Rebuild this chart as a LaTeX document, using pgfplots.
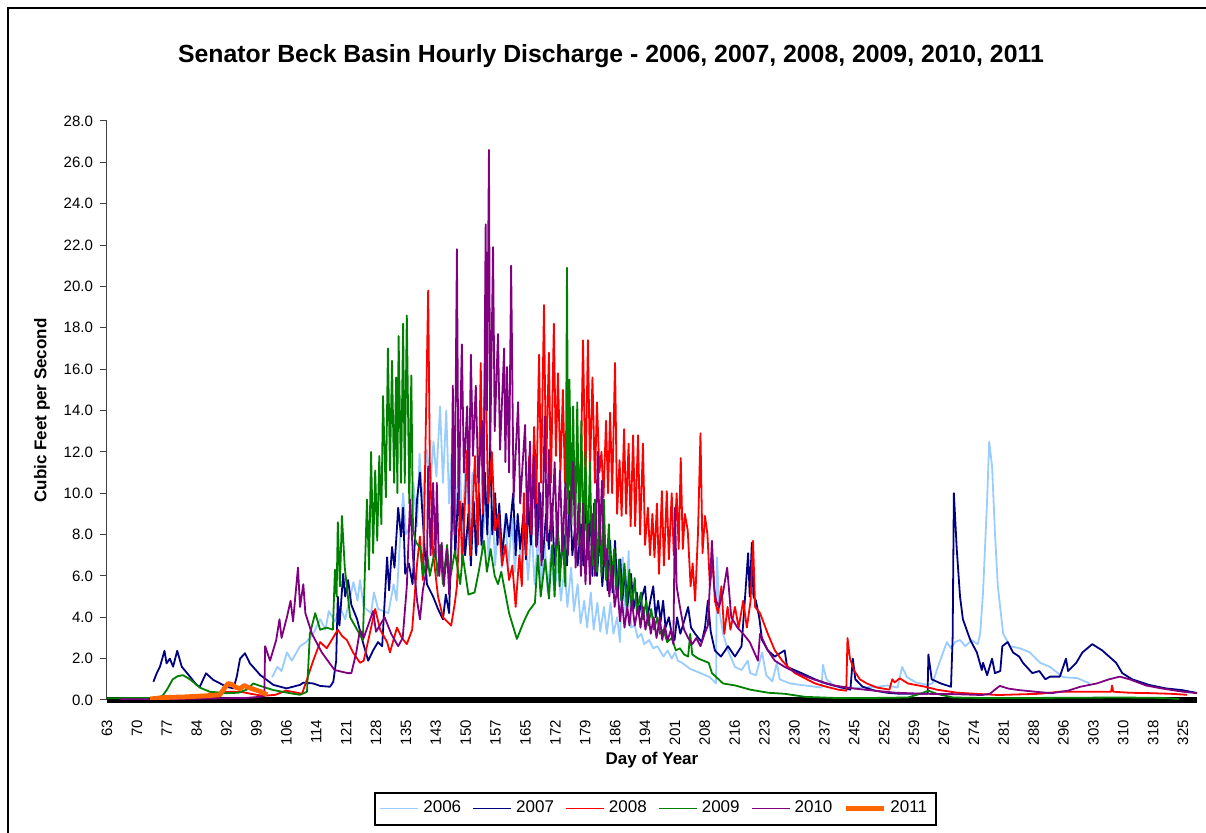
\documentclass[border=0pt]{standalone}
\usepackage{fontspec}
\setmainfont{Liberation Sans}
\usepackage{pgfplots}
\pgfplotsset{compat=1.18}
\definecolor{c2006}{RGB}{153,204,255}
\definecolor{c2007}{RGB}{0,0,128}
\definecolor{c2008}{RGB}{255,0,0}
\definecolor{c2009}{RGB}{0,128,0}
\definecolor{c2010}{RGB}{128,0,128}
\definecolor{c2011}{RGB}{255,102,0}
\begin{document}
\begin{tikzpicture}
\useasboundingbox (0pt,0pt) rectangle (603pt,416.5pt);
\draw[line width=1pt] (4pt,-20pt) rectangle (640pt,412.5pt);
\node[font=\bfseries\fontsize{12.4}{14}\selectfont] at (305.5pt,388.5pt) {Senator Beck Basin Hourly Discharge - 2006, 2007, 2008, 2009, 2010, 2011};
\begin{axis}[
  at={(53.5pt,66.5pt)}, anchor=south west,
  scale only axis, width=545pt, height=289.5pt,
  xmin=63, xmax=328.4, ymin=0, ymax=28,
  axis lines=left,
  axis line style={-, draw=black!75, line width=0.5pt},
  x axis line style={-, draw=black, line width=3.4pt},
  ytick={0,2,...,28},
  yticklabel={\pgfmathprintnumber[fixed,fixed zerofill,precision=1,assume math mode=true]{\tick}},
  yticklabel style={font=\fontsize{7.5}{9}\selectfont},
  ytick style={draw=black!75, line width=0.5pt},
  tick align=outside, major tick length=3.5pt,
  xtick={63,70.28,77.56,84.83,92.11,99.39,106.67,113.94,121.22,128.50,135.78,143.06,150.33,157.61,164.89,172.17,179.44,186.72,194.00,201.28,208.56,215.83,223.11,230.39,237.67,244.94,252.22,259.50,266.78,274.06,281.33,288.61,295.89,303.17,310.44,317.72,325.00},
  xticklabels={63,70,77,84,92,99,106,114,121,128,135,143,150,157,165,172,179,186,194,201,208,216,223,230,237,245,252,259,267,274,281,288,296,303,310,318,325},
  xtick style={draw=none},
  xticklabel style={rotate=90, anchor=east, font=\fontsize{7.5}{9}\selectfont, xshift=-3pt},
  xlabel={Day of Year}, ylabel={Cubic Feet per Second},
  xlabel style={at={(axis description cs:0.5,-0.104)}, anchor=center, font=\bfseries\fontsize{8.5}{10}\selectfont},
  ylabel style={at={(axis description cs:-0.0596,0.5)}, anchor=center, font=\bfseries\fontsize{8.5}{10}\selectfont},
  legend columns=6,
  legend style={at={(axis description cs:0.503,-0.1875)}, anchor=center, draw=black, line width=1pt, font=\fontsize{8.5}{10}\selectfont, inner sep=2.3pt, /tikz/every even column/.append style={column sep=3.6pt}},
  legend image code/.code={\draw[#1] (0pt,0pt) -- (19pt,0pt);},
  clip=true,
  every axis plot/.append style={line join=round},
]
\addplot[draw=c2006, line width=0.9pt] coordinates {(103.2,1.1)(104.5,1.6)(105.5,1.4)(106.8,2.3)(108,1.9)(110,2.6)(111.5,2.8)(113.2,3.2)(114.9,3.9)(116.2,3.4)(117,4.3)(118.5,3.8)(119.7,4.5)(121,3.9)(123,5.7)(124,4.8)(124.6,5.8)(125.5,4.5)(127.3,4.2)(128,5.2)(129,4.4)(131.5,4.2)(132.8,5.6)(133.5,4.8)(134.3,7.6)(135.1,10.0)(135.8,8.0)(136.7,8.4)(137.6,10.5)(138.5,8.4)(139.1,11.9)(139.8,9.5)(140.9,12.1)(141.7,10.3)(142.5,12.5)(143.2,10.8)(144.1,14.2)(144.8,10.5)(145.6,14.0)(146.3,9.5)(147.2,13.0)(147.9,8.5)(148.8,12.4)(149.5,8.0)(150.4,11.8)(151.1,7.5)(152,11.0)(152.7,7.2)(153.6,10.5)(154.3,7.0)(155.2,10.0)(155.9,6.8)(156.8,9.6)(157.5,6.5)(158.4,9.2)(159.1,6.4)(160,9.0)(160.7,6.3)(161.6,8.8)(162.3,6.2)(163.2,8.6)(163.9,6.0)(164.8,8.4)(165.5,5.8)(166.4,8.3)(167.1,5.6)(168,8.0)(168.7,5.5)(169.6,7.6)(170.3,5.2)(171.2,7.4)(171.9,5.0)(172.8,6.8)(173.5,4.8)(174.4,6.4)(175.1,4.5)(176,6.4)(176.7,4.3)(177.6,5.6)(178.3,3.7)(179.2,4.8)(179.9,3.5)(180.8,5.2)(181.5,3.4)(182.4,4.7)(183.1,3.3)(184,4.5)(184.7,3.2)(185.6,4.7)(186.3,3.2)(187.2,4.0)(187.9,2.8)(188.6,6.9)(189.3,4.0)(190,7.2)(190.6,3.5)(191.5,3.6)(192.2,3.0)(193.1,3.2)(193.8,2.7)(195,2.9)(196,2.5)(197,2.6)(198.5,2.1)(199.5,2.4)(200.5,2.0)(201.3,2.3)(202,1.9)(203,1.8)(205,1.5)(207.5,1.3)(209.8,1.1)(211.3,0.8)(211.5,6.9)(212.2,4.2)(213,3.2)(214.2,2.4)(215.9,1.6)(217.5,1.45)(219,1.9)(219.6,1.3)(221,1.2)(222.5,2.3)(223.5,1.2)(225,0.9)(226.1,1.8)(226.8,1.0)(229.3,0.8)(233,0.7)(237,0.6)(237.3,1.7)(238.2,1.0)(240,0.7)(242.2,0.55)(246,0.6)(250.5,0.64)(253,0.7)(255.5,0.6)(256.6,1.6)(257.8,1.1)(260,0.85)(262.7,0.73)(264,0.8)(265.3,1.6)(267.5,2.8)(268.5,2.5)(269.5,2.8)(270.7,2.9)(272,2.6)(273.5,2.9)(275,2.7)(275.6,3.2)(276.3,5.2)(277.3,9.7)(277.8,12.5)(278.5,11.3)(279.2,8.1)(279.9,5.5)(281.2,3.2)(282.9,2.6)(285.3,2.5)(287.7,2.3)(290.2,1.8)(292.6,1.6)(295.8,1.1)(299.2,1.06)(302.3,0.8)};
\addlegendentry{2006}
\addplot[draw=c2007, line width=0.9pt] coordinates {(74.3,0.88)(75.1,1.29)(75.9,1.61)(77.0,2.38)(77.5,1.77)(78.3,2.0)(79.1,1.61)(80.1,2.38)(81.2,1.61)(83.2,1.13)(84.8,0.73)(85.6,0.64)(87.1,1.29)(88.9,0.97)(92.1,0.64)(93.8,0.56)(94.6,1.13)(95.4,2.0)(96.6,2.26)(97.8,1.77)(100.3,1.21)(103.5,0.73)(106.7,0.56)(110,0.73)(110.8,0.84)(113.2,0.8)(114.9,0.68)(117.3,0.64)(118.1,0.88)(118.8,1.9)(119.2,5.0)(119.6,3.6)(120.5,6.1)(121.0,5.0)(121.7,5.8)(122.5,4.6)(123.9,3.9)(125.3,2.8)(126.6,1.9)(127.8,2.4)(129.0,2.8)(130.0,2.6)(131.2,6.9)(131.7,5.3)(132.4,7.4)(133.0,6.4)(133.9,9.3)(134.6,7.9)(135.1,9.3)(135.6,6.1)(136.5,6.6)(137.4,5.6)(138.5,9.7)(139.2,11.0)(139.9,8.7)(140.9,5.6)(142.4,5.0)(143.6,4.4)(144.8,3.9)(145.5,5.1)(146.3,4.2)(147.3,10.7)(147.8,7.0)(148.5,10.0)(149.0,8.2)(149.6,9.5)(150.2,7.0)(151.0,9.0)(151.6,6.5)(152.3,9.6)(152.9,7.0)(153.6,10.0)(154.2,7.5)(155.0,11.0)(155.6,8.0)(156.3,12.4)(156.8,8.0)(157.5,10.0)(158.1,7.5)(158.5,9.5)(159.2,7.0)(160.2,9.0)(160.9,7.9)(161.9,10.0)(162.5,7.0)(163.0,9.0)(163.6,7.3)(164.4,9.0)(165.0,6.8)(165.6,9.5)(166.2,7.5)(166.6,10.0)(167.2,12.1)(167.7,7.5)(168.5,10.0)(169.1,6.8)(169.9,9.0)(170.6,7.3)(171.3,9.5)(172.0,6.5)(172.7,8.4)(173.4,6.4)(174.2,8.0)(175.0,6.5)(175.7,10.1)(176.3,7.0)(176.9,8.2)(177.6,6.5)(178.4,8.5)(179.0,6.5)(179.4,10.6)(180.0,6.8)(180.8,9.0)(181.2,6.0)(181.6,9.5)(182.3,6.0)(183.0,8.0)(183.6,5.5)(184.3,7.5)(184.9,5.3)(185.5,7.7)(186.1,5.2)(186.7,7.7)(187.3,5.0)(188.0,6.8)(188.5,4.8)(189.1,6.3)(189.7,4.5)(190.6,6.1)(191.2,4.4)(192.0,5.2)(192.6,4.2)(193.3,5.0)(194.0,5.5)(194.6,4.0)(195.3,4.8)(196.0,5.5)(196.6,4.0)(197.2,4.8)(197.8,3.8)(198.4,4.8)(199.0,3.5)(199.8,4.0)(200.5,3.2)(201.2,2.9)(201.8,4.0)(202.6,3.2)(203.5,3.8)(204.5,4.5)(205.2,3.5)(206.2,3.2)(207.0,3.0)(207.8,2.8)(208.6,3.5)(209.3,4.8)(210,3.3)(211.0,2.4)(212.5,2.1)(214.2,2.6)(215.9,2.1)(217.5,2.6)(218.3,4.8)(219.1,7.1)(219.5,5.0)(220.0,7.6)(220.4,5.0)(221.0,4.8)(221.8,4.0)(222.5,2.9)(223.9,2.4)(225.6,2.1)(228.0,2.4)(228.6,1.6)(232.1,1.3)(235.4,1.0)(238,0.8)(240,0.7)(242,0.6)(244,0.5)(244.6,2.0)(245.2,1.0)(247,0.64)(250,0.45)(253,0.35)(256,0.3)(260,0.3)(262.8,0.3)(263.0,2.2)(263.8,1.0)(266,0.8)(268.5,0.64)(268.9,3.0)(269.2,10.0)(269.9,7.3)(270.7,5.0)(271.4,3.9)(273.2,2.9)(274.8,2.3)(276.0,1.45)(276.3,1.8)(277.3,1.2)(278.5,2.0)(279.2,1.3)(280.5,1.4)(281.0,2.6)(282.3,2.8)(283.6,2.3)(285.1,2.1)(286.0,1.8)(288.3,1.3)(290.0,1.4)(291.5,1.0)(292.6,1.13)(295.0,1.13)(296.5,2.0)(297.0,1.4)(299.0,1.8)(300.5,2.3)(302.9,2.7)(305.3,2.4)(308.7,1.8)(310.2,1.3)(312.6,1.0)(316.7,0.73)(320.8,0.56)(324.7,0.48)(328.4,0.34)};
\addlegendentry{2007}
\addplot[draw=c2008, line width=0.9pt] coordinates {(87.6,0.3)(90,0.35)(93,0.4)(96,0.38)(98,0.3)(101,0.2)(104,0.25)(106.5,0.45)(108,0.4)(110.5,0.3)(111.7,1.0)(113.2,1.9)(114.9,2.8)(116.5,2.5)(118,3.0)(119.2,3.4)(120.2,3.1)(121.4,2.9)(122.9,2.3)(124.6,1.8)(125.5,1.9)(126.3,2.6)(128.3,4.4)(129.5,3.4)(131.2,2.8)(131.9,2.3)(133.6,3.5)(134.8,3.0)(136.0,2.7)(137.3,3.4)(138.5,6.6)(139.2,7.9)(139.9,5.8)(140.4,10.6)(141.2,19.8)(141.6,11.5)(142.4,7.1)(143.6,5.0)(144.8,4.0)(146.8,3.6)(147.7,4.7)(148.2,5.5)(149.0,9.6)(149.5,6.5)(150.7,12.1)(151.5,7.0)(152.6,11.8)(153.3,7.5)(154.0,16.3)(154.5,9.0)(155.1,17.0)(155.8,9.5)(156.7,12.0)(157.5,8.2)(158.3,9.0)(159.2,6.5)(160.0,7.5)(160.9,5.8)(161.7,6.5)(162.5,4.5)(163.4,7.0)(164.0,5.5)(164.5,10.0)(165.0,7.0)(165.8,11.8)(166.3,8.0)(167.0,13.2)(167.5,9.5)(168.2,16.7)(168.7,10.5)(169.4,19.1)(169.9,11.0)(170.6,16.8)(171.1,10.5)(171.8,18.2)(172.3,11.8)(172.8,15.8)(173.4,11.0)(174.0,15.0)(174.5,10.5)(175.2,12.6)(175.8,10.3)(176.5,11.8)(177.1,10.0)(177.8,11.3)(178.3,10.1)(178.9,17.4)(179.5,10.5)(180.1,17.4)(180.6,11.0)(181.2,15.6)(181.8,10.5)(182.3,14.4)(182.9,11.0)(183.4,12.0)(183.9,9.8)(184.5,13.5)(185.0,10.0)(185.5,13.9)(186.0,10.0)(186.7,16.3)(187.2,9.0)(187.8,11.6)(188.3,8.9)(188.9,13.1)(189.4,9.0)(190.0,12.4)(190.5,8.4)(191.1,12.8)(191.6,8.4)(192.3,12.8)(192.8,8.0)(193.5,12.4)(194.0,7.5)(194.7,9.3)(195.2,7.0)(195.8,9.0)(196.3,6.9)(196.9,9.5)(197.4,6.1)(198.1,10.1)(198.6,6.5)(199.3,10.1)(199.8,6.8)(200.5,10.0)(201.0,7.0)(201.7,10.0)(202.2,7.3)(202.7,11.7)(203.2,7.3)(203.7,9.0)(204.4,8.2)(205.1,5.5)(205.6,6.6)(206.2,4.8)(206.9,8.1)(207.5,12.9)(208.0,7.1)(208.6,8.9)(209.2,8.0)(209.8,5.5)(210.5,6.8)(211.0,4.8)(211.8,4.2)(212.6,5.5)(213.3,3.2)(214.1,4.5)(214.8,3.4)(215.9,4.5)(216.8,3.5)(217.9,4.8)(218.8,3.5)(219.7,4.8)(220.3,7.7)(220.8,4.5)(222.0,4.2)(223.9,3.2)(225.6,2.4)(227.4,1.9)(228.8,1.6)(230.5,1.3)(233.7,0.97)(235.4,0.8)(238,0.65)(241,0.5)(243.0,0.45)(243.3,3.0)(243.9,2.0)(245,1.4)(246.3,1.0)(248,0.8)(250.5,0.6)(253.5,0.5)(254.2,1.0)(254.8,0.85)(256,1.05)(258,0.8)(262.2,0.64)(265,0.5)(270,0.35)(280,0.24)(290,0.3)(295,0.4)(300,0.4)(307.5,0.4)(307.7,0.7)(308.0,0.4)(312,0.35)(317,0.33)(322,0.3)(326,0.25)};
\addlegendentry{2008}
\addplot[draw=c2009, line width=0.9pt] coordinates {(63,0.08)(70,0.1)(75,0.1)(76.5,0.2)(77.6,0.5)(79,1.0)(80.2,1.15)(81.5,1.2)(83.2,1.0)(85.6,0.6)(88,0.4)(92,0.33)(95,0.35)(97,0.5)(98.6,0.8)(100,0.7)(103.5,0.48)(107.5,0.33)(110,0.25)(111.7,0.4)(112.0,1.6)(112.4,3.2)(113.7,4.2)(114.9,3.4)(116.5,3.5)(118.0,3.4)(118.5,6.3)(118.9,5.0)(119.2,8.6)(119.7,5.5)(120.2,8.9)(120.9,6.4)(122.2,4.0)(123.9,3.4)(125.3,2.9)(126.3,9.7)(126.8,6.3)(127.3,12.0)(127.8,7.1)(128.3,11.1)(128.8,7.7)(129.3,11.8)(129.8,8.5)(130.2,14.7)(130.9,9.8)(131.4,17.0)(131.9,11.1)(132.4,16.4)(132.9,10.5)(133.4,15.6)(133.7,10.0)(134.0,17.6)(134.6,10.5)(135.1,18.2)(135.5,10.5)(136.0,18.6)(136.6,9.5)(137.1,15.7)(137.5,8.2)(138.3,7.6)(139.2,7.4)(140.0,6.0)(141.0,7.0)(141.6,6.0)(142.9,7.3)(143.5,6.0)(144.1,7.5)(144.8,5.6)(145.8,7.5)(146.5,5.8)(147.7,7.2)(149.0,5.6)(149.6,7.0)(151.0,5.1)(152.5,5.2)(153.5,6.2)(154.8,7.7)(155.5,6.2)(156.4,7.3)(157.4,6.0)(158.2,5.6)(159.0,6.2)(160.9,4.2)(162.8,2.95)(164.5,3.8)(165.7,4.3)(167.2,4.7)(167.9,7.0)(168.6,5.0)(169.7,6.8)(170.6,4.9)(171.4,7.5)(172.0,5.0)(172.6,9.0)(173.2,5.5)(173.9,8.0)(174.6,5.5)(175.0,20.9)(175.3,9.0)(175.6,15.5)(176.1,8.5)(176.5,14.2)(177.0,8.0)(177.5,14.4)(178.0,7.5)(178.5,13.5)(179.0,7.3)(179.5,12.0)(180.0,6.8)(180.6,11.5)(181.1,6.5)(181.8,9.7)(182.3,6.2)(182.9,9.5)(183.4,6.0)(184.0,9.7)(184.5,5.8)(185.2,8.5)(185.7,5.5)(186.5,7.3)(187.0,5.2)(187.7,6.8)(188.2,4.8)(189.0,6.6)(189.5,4.6)(190.2,6.3)(190.7,4.4)(191.5,5.9)(192.0,4.2)(193.0,5.2)(193.5,3.9)(194.3,4.8)(194.8,3.6)(195.5,4.4)(196.2,3.4)(197.0,4.0)(197.6,3.2)(198.5,3.4)(199.4,2.8)(200.5,3.0)(201.5,2.4)(202.5,2.5)(203.5,2.2)(204.5,2.1)(205.0,3.2)(205.5,2.2)(207,2.0)(209.5,1.8)(210.3,1.3)(213,0.8)(216,0.7)(219.6,0.5)(224,0.35)(228,0.3)(233,0.15)(240,0.1)(250,0.1)(258,0.12)(261,0.3)(263,0.45)(265,0.3)(269,0.12)(275,0.1)(290,0.1)(310,0.12)(320,0.1)(324,0.05)};
\addlegendentry{2009}
\addplot[draw=c2010, line width=0.9pt] coordinates {(66,0.03)(80,0.05)(90,0.08)(97,0.1)(100,0.15)(101.3,0.2)(101.5,2.6)(102.7,1.9)(104.2,2.9)(105.0,3.9)(105.5,3.0)(106.8,4.0)(107.7,4.8)(108.3,3.8)(109.5,6.4)(110.0,4.5)(110.8,5.6)(111.3,4.2)(112.9,3.2)(115.3,2.3)(118.4,1.45)(121.6,1.3)(122.5,1.3)(123.7,2.3)(124.6,3.4)(125.5,3.0)(127.8,4.3)(128.5,3.3)(130.6,4.0)(132.2,3.2)(133.9,2.6)(135.0,3.0)(136.0,5.5)(136.8,9.7)(137.5,6.9)(138.5,4.8)(139.2,3.9)(139.9,5.3)(140.9,6.4)(141.2,11.3)(141.8,7.0)(142.4,10.5)(143.0,6.9)(143.3,10.5)(143.9,6.0)(144.5,7.6)(145.0,5.5)(145.8,7.3)(146.3,5.1)(146.8,7.0)(147.2,15.2)(147.6,8.0)(148.2,21.8)(148.6,9.0)(149.4,17.2)(149.9,11.0)(150.7,14.2)(151.1,9.5)(151.6,16.7)(152.1,11.8)(152.8,15.2)(153.4,10.5)(154.3,13.5)(154.7,9.5)(155.2,23.0)(155.5,14.0)(156.0,26.6)(156.3,12.0)(157.0,21.9)(157.4,13.0)(158.2,17.7)(158.7,12.1)(159.7,17.0)(160.0,11.5)(160.4,16.1)(160.9,11.0)(161.4,21.0)(162.0,9.8)(163.1,14.4)(163.6,9.5)(164.8,13.3)(165.3,8.5)(166.0,12.5)(166.4,8.0)(166.9,11.8)(167.5,7.4)(168.2,10.5)(168.8,6.5)(169.6,13.7)(170.1,7.7)(170.6,12.1)(171.2,7.7)(172.0,11.5)(172.6,7.5)(173.3,11.1)(173.9,7.2)(174.6,10.5)(175.2,7.0)(176.5,11.5)(177.1,6.4)(177.8,9.5)(178.4,6.0)(178.9,9.5)(179.5,5.6)(180.1,8.5)(180.6,5.6)(181.3,9.0)(181.8,6.0)(182.5,12.0)(183.0,7.5)(183.5,10.6)(184.1,6.5)(184.7,7.3)(185.3,5.0)(186.0,6.5)(186.6,4.5)(187.3,5.5)(187.9,3.8)(188.4,4.8)(189.0,3.5)(189.7,4.5)(190.2,3.6)(190.8,4.8)(191.5,3.6)(192.3,4.5)(192.9,3.5)(193.5,4.5)(194.1,3.4)(194.8,4.2)(195.4,3.2)(196.1,4.0)(196.8,3.0)(197.6,4.0)(198.2,2.9)(198.8,3.6)(199.5,2.9)(200.3,3.4)(200.9,2.7)(201.3,9.3)(201.7,5.5)(202.5,4.5)(203.5,3.4)(204.5,3.0)(205.5,2.7)(206.5,3.0)(207.5,2.6)(208.5,3.2)(209.3,3.6)(210.3,7.7)(210.8,5.5)(211.3,4.8)(212,4.5)(213,5.2)(214.0,6.4)(215,4.0)(216.5,3.5)(217.9,3.2)(219.5,2.8)(221.5,1.9)(222.0,3.2)(223.9,2.4)(225.6,1.9)(228,1.6)(231.1,1.3)(235,1.0)(240,0.7)(245,0.55)(250,0.45)(255,0.35)(262,0.3)(270,0.28)(276,0.24)(278,0.3)(279.5,0.55)(280.4,0.68)(282.5,0.55)(285,0.48)(290,0.38)(293,0.33)(297,0.45)(300,0.64)(304,0.8)(307,1.0)(309.6,1.13)(312,1.0)(316,0.7)(320,0.55)(325,0.4)(328.4,0.33)};
\addlegendentry{2010}
\addplot[draw=c2011, line width=2.4pt] coordinates {(73.5,0.05)(77,0.12)(82,0.15)(87,0.2)(90.5,0.25)(91.7,0.6)(92.5,0.8)(93.4,0.75)(94.5,0.6)(95.4,0.55)(96.4,0.7)(97.5,0.6)(99,0.5)(100.5,0.4)(102,0.25)};
\addlegendentry{2011}
\end{axis}
\end{tikzpicture}
\end{document}
